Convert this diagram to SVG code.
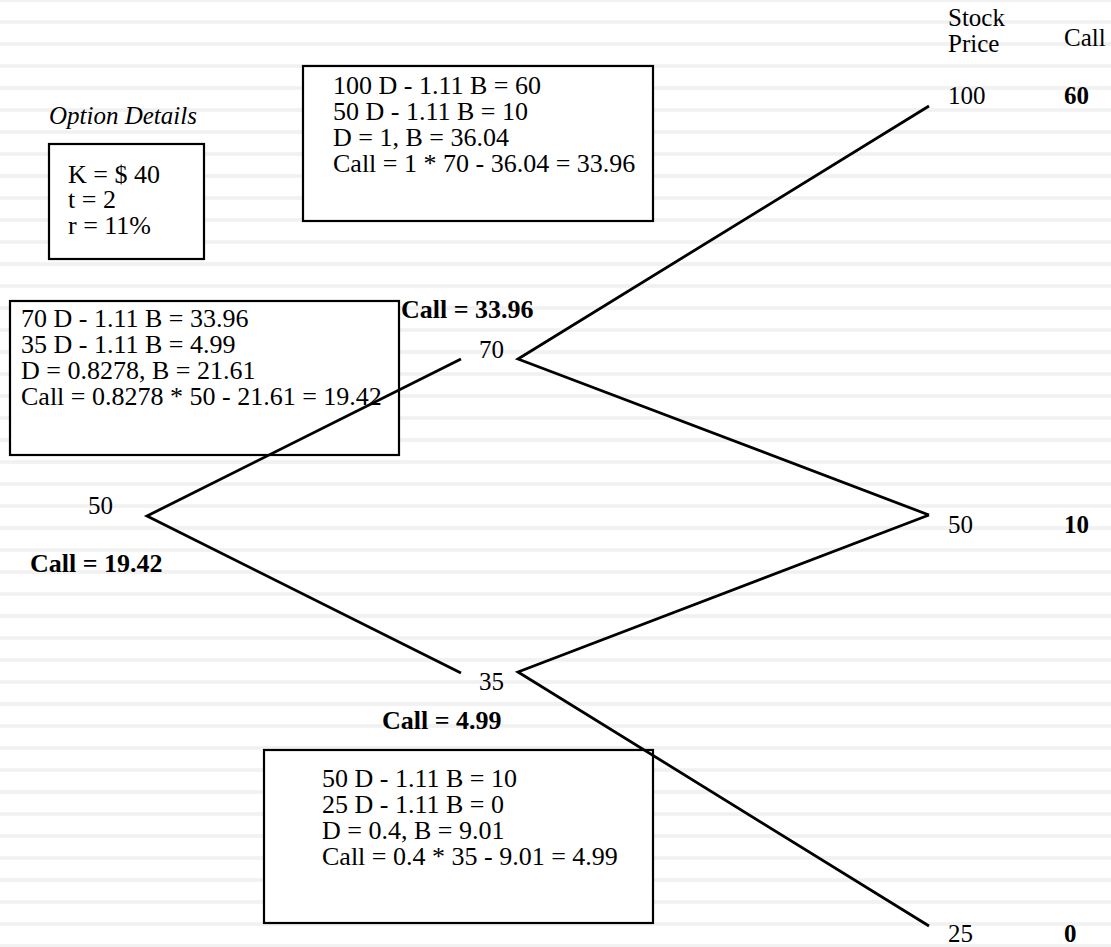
<svg xmlns="http://www.w3.org/2000/svg" width="1111" height="947" viewBox="0 0 1111 947">
  <style>
    text { font-family: "Liberation Serif", "Times New Roman", serif; fill: #000; }
    .box { fill: #fff; stroke: #000; stroke-width: 2.2; }
    .t26 { font-size: 26px; }
    .t25 { font-size: 25px; }
    .b { font-weight: bold; font-size: 26px; }
    .bc { font-weight: bold; font-size: 25px; }
    .it { font-style: italic; font-size: 25px; }
    .edge { stroke: #000; stroke-width: 2.8; fill: none; stroke-linecap: butt; }
  </style>
  <defs>
    <pattern id="stripes" patternUnits="userSpaceOnUse" x="0" y="-2" width="1111" height="22">
      <rect x="0" y="0.2" width="1111" height="3.6" fill="#f1f1f1"/>
    </pattern>
  </defs>
  <rect x="0" y="0" width="1111" height="947" fill="#fff"/>
  <rect x="0" y="0" width="1111" height="947" fill="url(#stripes)"/>

  <g id="option-details">
    <text class="it" x="49" y="124">Option Details</text>
    <rect class="box" x="49" y="144" width="155" height="115"/>
    <text class="t26" x="68" y="183">K = $ 40</text>
    <text class="t26" x="68" y="208">t = 2</text>
    <text class="t26" x="68" y="234">r = 11%</text>
  </g>

  <g id="calc-70">
    <rect class="box" x="303" y="66" width="350" height="155"/>
    <text class="t26" x="333" y="94">100 D - 1.11 B = 60</text>
    <text class="t26" x="333" y="120">50 D - 1.11 B = 10</text>
    <text class="t26" x="333" y="146">D = 1, B = 36.04</text>
    <text class="t26" x="333" y="172">Call = 1 * 70 - 36.04 = 33.96</text>
  </g>

  <g id="calc-50">
    <rect class="box" x="10" y="301" width="389" height="154"/>
    <text class="t26" x="21" y="327">70 D - 1.11 B = 33.96</text>
    <text class="t26" x="21" y="353">35 D - 1.11 B = 4.99</text>
    <text class="t26" x="21" y="379">D = 0.8278, B = 21.61</text>
    <text class="t26" x="21" y="405">Call = 0.8278 * 50 - 21.61 = 19.42</text>
  </g>

  <g id="calc-35">
    <rect class="box" x="264" y="750" width="389" height="173"/>
    <text class="t26" x="322" y="787">50 D - 1.11 B = 10</text>
    <text class="t26" x="322" y="813">25 D - 1.11 B = 0</text>
    <text class="t26" x="322" y="839">D = 0.4, B = 9.01</text>
    <text class="t26" x="322" y="865">Call = 0.4 * 35 - 9.01 = 4.99</text>
  </g>

  <g id="connectors">
    <polyline class="edge" points="461,359 147,516 461,673"/>
    <polyline class="edge" points="929,106 518,359 929,515"/>
    <polyline class="edge" points="929,515 518,672 929,926"/>
  </g>

  <g id="header">
    <text class="t25" x="948" y="26">Stock</text>
    <text class="t25" x="948" y="52">Price</text>
    <text class="t25" x="1064" y="46">Call</text>
  </g>

  <g id="node-50-root">
    <text class="t25" x="88" y="514">50</text>
    <text class="b" x="30" y="572">Call = 19.42</text>
  </g>

  <g id="node-70">
    <text class="b" x="401" y="318">Call = 33.96</text>
    <text class="t25" x="479" y="358">70</text>
  </g>

  <g id="node-35">
    <text class="t25" x="479" y="690">35</text>
    <text class="b" x="382" y="729">Call = 4.99</text>
  </g>

  <g id="node-100">
    <text class="t25" x="948" y="104">100</text>
    <text class="bc" x="1064" y="104">60</text>
  </g>

  <g id="node-50-final">
    <text class="t25" x="948" y="533">50</text>
    <text class="bc" x="1064" y="533">10</text>
  </g>

  <g id="node-25">
    <text class="t25" x="948" y="942">25</text>
    <text class="bc" x="1064" y="942">0</text>
  </g>
</svg>
